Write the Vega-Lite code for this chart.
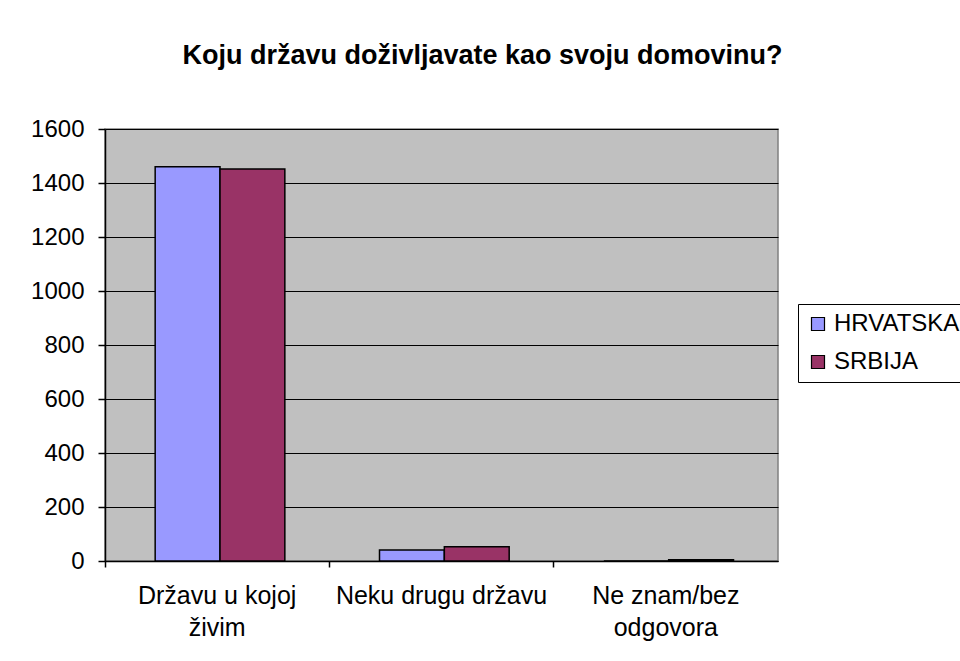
{
  "$schema": "https://vega.github.io/schema/vega-lite/v6.json",
  "width": 673,
  "height": 432,
  "autosize": {"type": "none"},
  "padding": {"left": 105, "top": 129, "right": 182, "bottom": 100},
  "background": "white",
  "title": {
    "text": "Koju državu doživljavate kao svoju domovinu?",
    "font": "Liberation Sans",
    "fontSize": 27,
    "fontWeight": "bold",
    "color": "black",
    "anchor": "middle",
    "frame": "group",
    "dx": 41,
    "offset": 47
  },
  "data": {
    "values": [
      {"cat": "Državu u kojoj živim", "series": "HRVATSKA", "value": 1460},
      {"cat": "Državu u kojoj živim", "series": "SRBIJA", "value": 1452},
      {"cat": "Neku drugu državu", "series": "HRVATSKA", "value": 41},
      {"cat": "Neku drugu državu", "series": "SRBIJA", "value": 53},
      {"cat": "Ne znam/bez odgovora", "series": "HRVATSKA", "value": 0},
      {"cat": "Ne znam/bez odgovora", "series": "SRBIJA", "value": 5}
    ]
  },
  "mark": {"type": "bar", "stroke": "black", "strokeWidth": 1.5},
  "encoding": {
    "x": {
      "field": "cat",
      "type": "nominal",
      "sort": null,
      "title": null,
      "scale": {"paddingInner": 0, "paddingOuter": 0},
      "axis": {
        "bandPosition": 0,
        "labelAngle": 0,
        "labelFont": "Liberation Sans",
        "labelFontSize": 25,
        "labelColor": "black",
        "labelLineHeight": 32,
        "labelPadding": 16,
        "labelLimit": 0,
        "labelExpr": "datum.label == 'Državu u kojoj živim' ? ['Državu u kojoj', 'živim'] : datum.label == 'Ne znam/bez odgovora' ? ['Ne znam/bez', 'odgovora'] : datum.label",
        "domainColor": "black",
        "domainWidth": 1.5,
        "tickColor": "black",
        "tickSize": 6,
        "tickWidth": 1.5,
        "grid": false
      }
    },
    "xOffset": {
      "field": "series",
      "type": "nominal",
      "scale": {"paddingInner": 0, "paddingOuter": 0.73, "align": 0.53}
    },
    "y": {
      "field": "value",
      "type": "quantitative",
      "title": null,
      "scale": {"domain": [0, 1600], "nice": false},
      "axis": {
        "values": [0, 200, 400, 600, 800, 1000, 1200, 1400, 1600],
        "format": "d",
        "labelFont": "Liberation Sans",
        "labelFontSize": 24,
        "labelColor": "black",
        "labelPadding": 14,
        "domainColor": "black",
        "domainWidth": 1.5,
        "tickColor": "black",
        "tickSize": 7,
        "tickWidth": 1.5,
        "grid": true,
        "gridColor": "black",
        "gridWidth": 1.2,
        "gridOpacity": 1
      }
    },
    "color": {
      "field": "series",
      "type": "nominal",
      "scale": {"domain": ["HRVATSKA", "SRBIJA"], "range": ["#9999FF", "#993366"]},
      "legend": {
        "title": null,
        "orient": "none",
        "legendX": 693,
        "legendY": 175,
        "strokeColor": "black",
        "fillColor": "white",
        "padding": 8,
        "rowPadding": 14,
        "labelFont": "Liberation Sans",
        "labelFontSize": 24,
        "labelColor": "black",
        "labelLimit": 300,
        "symbolType": "square",
        "symbolSize": 169,
        "symbolStrokeColor": "black",
        "symbolStrokeWidth": 1.2,
        "symbolOpacity": 1
      }
    }
  },
  "config": {
    "view": {"fill": "#C0C0C0", "stroke": "#808080", "strokeWidth": 1.5}
  }
}
